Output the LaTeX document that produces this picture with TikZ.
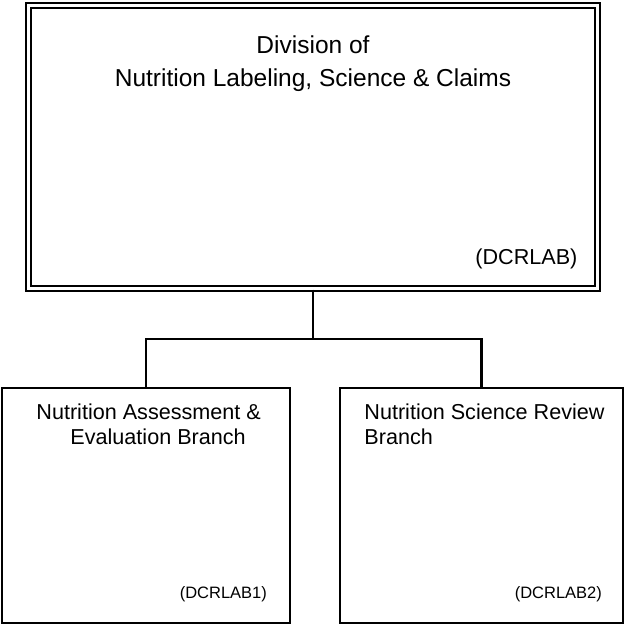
\documentclass[tikz,border=0pt]{standalone}
\usepackage{fontspec}
\setmainfont{Liberation Sans}
\usetikzlibrary{positioning}

\begin{document}
\begin{tikzpicture}[x=1pt, y=-1pt, node distance=20pt,
  every node/.style={font=\fontsize{21.6}{25}\selectfont},
  unit/.style={draw, line width=2.2pt, minimum width=#1},
  code/.style={inner sep=0pt, anchor=base east}]
\useasboundingbox (0,0) rectangle (625,626);
\node[draw, line width=2.2pt, double, double distance=3pt,
      minimum width=569pt, minimum height=283pt] (div) at (313,147) {};
\node[unit=288pt, minimum height=235pt] (asmt) at (146,505.5) {};
\node[unit=283pt, minimum height=235pt] (rev) at (481.5,505.5) {};
\node[below=28pt of div.north, align=center, font=\fontsize{24.5}{33}\selectfont] (divname)
  {Division of\\Nutrition Labeling, Science \& Claims};
\node[code] (divcode) at ([shift={(-21pt,25pt)}]div.south east) {(DCRLAB)};
\node[below right=13pt and 32pt of asmt.north west, anchor=north west, align=left] (asmtname)
  {Nutrition Assessment \&\\\hspace*{34pt}Evaluation Branch};
\node[code, font=\fontsize{16.5}{20}\selectfont] (asmtcode) at ([shift={(-24pt,26pt)}]asmt.south east) {(DCRLAB1)};
\node[below right=13pt and 22pt of rev.north west, anchor=north west, align=left] (revname)
  {Nutrition Science Review\\Branch};
\node[code, font=\fontsize{16.5}{20}\selectfont] (revcode) at ([shift={(-22pt,26pt)}]rev.south east) {(DCRLAB2)};
% tree lines
\coordinate (split) at (div.south |- 0,339);
\draw[line width=2.2pt] (div.south) -- (split);
\draw[line width=2.2pt] (asmt.north) |- (split) -| (rev.north);
\end{tikzpicture}
\end{document}
